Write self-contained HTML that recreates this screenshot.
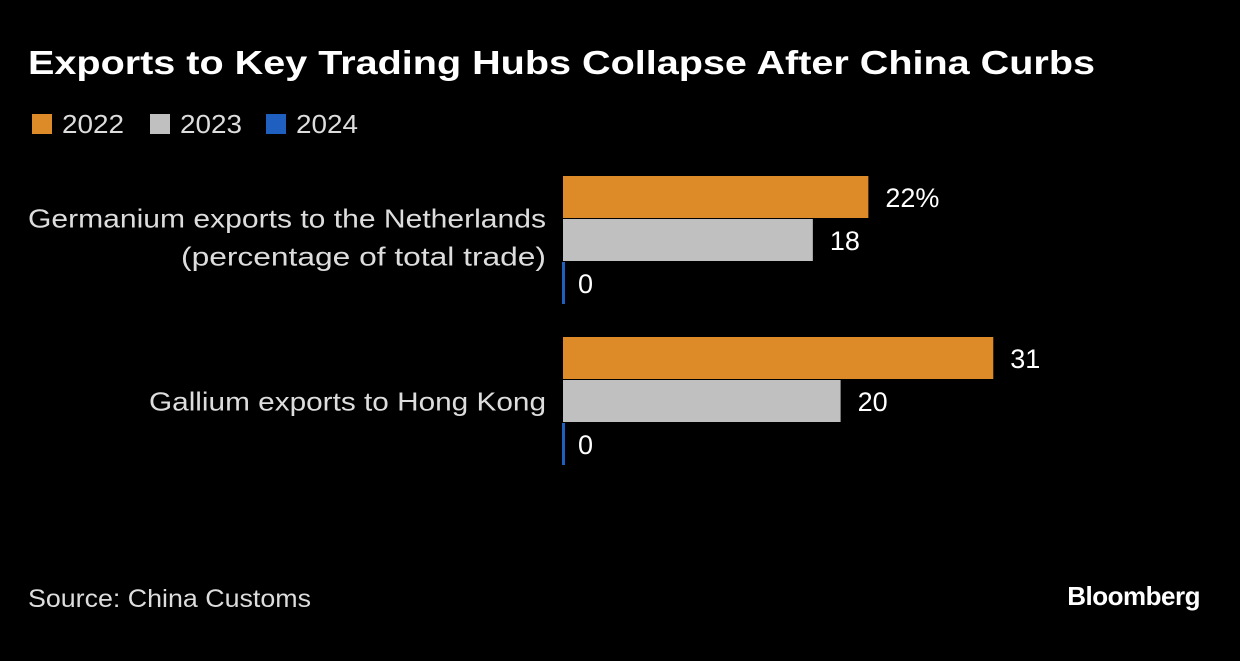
<!DOCTYPE html>
<html><head><meta charset="utf-8"><style>
body{margin:0;background:#000;width:1240px;height:656px;overflow:hidden;font-family:"Liberation Sans",sans-serif;}
</style></head><body>
<svg width="1240" height="656">
<text x="28" y="74" fill="#fff" font-size="33" font-weight="bold" textLength="1067" lengthAdjust="spacingAndGlyphs">Exports to Key Trading Hubs Collapse After China Curbs</text>
<g id="legend"></g>
<g id="bars"></g>
<text x="28" y="607" fill="#ddd" font-size="25" textLength="283" lengthAdjust="spacingAndGlyphs">Source: China Customs</text>
<text x="1200" y="605" fill="#fff" font-size="26" font-weight="bold" text-anchor="end" letter-spacing="-0.5">Bloomberg</text>
</svg>
<script>
const categories=[["Germanium exports to the Netherlands","(percentage of total trade)"],["Gallium exports to Hong Kong"]];
const seriesNames=["2022","2023","2024"];
const v2022=[22,31];
const v2023=[18,20];
const v2024=[0,0];
const labels2022=["22%","31"];
const colors=["#dd8a28","#c0c0c0","#1f5fc0"];
const labelWidths={"Germanium exports to the Netherlands":518,"(percentage of total trade)":365,"Gallium exports to Hong Kong":397};
const NS="http://www.w3.org/2000/svg";
function mk(t,a,p){const e=document.createElementNS(NS,t);for(const k in a)e.setAttribute(k,a[k]);p.appendChild(e);return e;}
const x0=563,scale=13.88;
const xs=v=>x0+v*scale;
const groupTop=[176,337],barStep=43,barH=42;
const lg=document.getElementById('legend');
const lx=[32,150,266];
seriesNames.forEach((n,i)=>{
 const r=mk('rect',{x:lx[i],y:114,width:20,height:20,fill:colors[i]},lg);
 
 
 const t=mk('text',{x:lx[i]+30,y:133,fill:'#ddd','font-size':26,textLength:62,lengthAdjust:'spacingAndGlyphs'},lg);t.textContent=n;
 
 
});
const g=document.getElementById('bars');
const series=[v2022,v2023,v2024];
categories.forEach((c,ci)=>{
 const mid=groupTop[ci]+barStep*1.5;
 const lines=c.length;
 c.forEach((ln,li)=>{
  const t=mk('text',{x:546,y:mid+9+(li-(lines-1)/2)*38-(lines>1?3:0),fill:'#ddd','font-size':26,'text-anchor':'end',textLength:labelWidths[ln]||400,lengthAdjust:'spacingAndGlyphs'},g);
  t.textContent=ln;
  
  
 });
 series.forEach((s,si)=>{
  const y=groupTop[ci]+si*barStep;
  const w=Math.max(xs(s[ci])-x0,3);
  const r=mk('rect',{x:x0-(s[ci]===0?1:0),y:y,width:w,height:barH,fill:colors[si]},g);
  
  
  const t=mk('text',{x:xs(s[ci])+(s[ci]===0?15:17),y:y+31,fill:'#fff','font-size':27},g);
  t.textContent=si===0?labels2022[ci]:String(s[ci]);
  
  
 });
});
</script>
</body></html>
